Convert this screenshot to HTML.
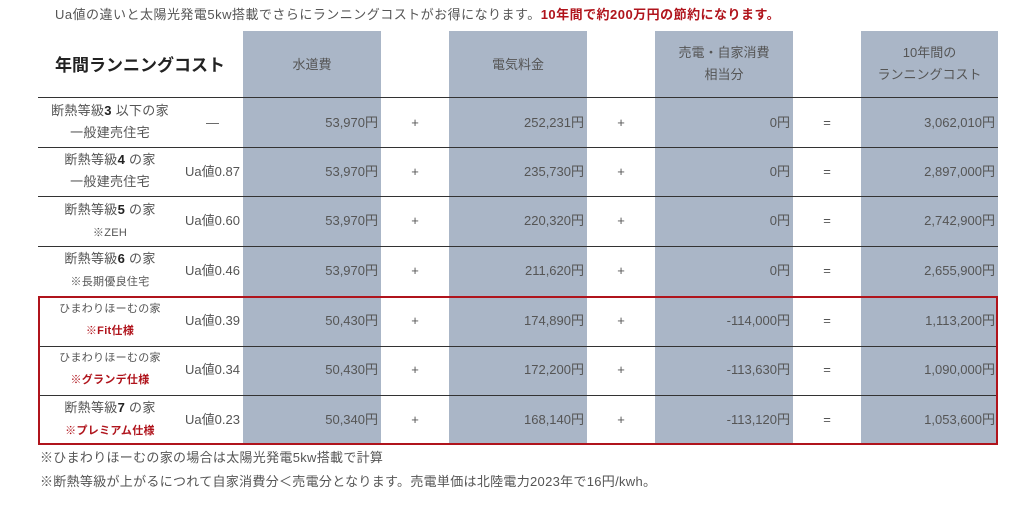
<!DOCTYPE html><html><head><meta charset="utf-8"><style>
body{margin:0;width:1024px;height:506px;background:#fff;position:relative;overflow:hidden;font-family:"Liberation Sans","Noto Sans CJK JP",sans-serif;color:#555;}
.a{position:absolute;white-space:nowrap}
.bl{position:absolute;background:#aab6c7;top:31px;height:414px}
.hl{position:absolute;left:38px;width:960px;height:1px;background:#333}
.c{text-align:center}
.r{text-align:right}
.n{font-size:13px;height:20px;line-height:20px}
.lab{font-size:13px;line-height:22px;text-align:center;width:144px;left:38px;letter-spacing:0.3px}
b{color:#222}
.red{color:#b0141c;font-weight:bold;font-size:11px}
</style></head><body>
<div class="a" style="left:55px;top:4px;font-size:13px;color:#555;letter-spacing:0.48px">Ua値の違いと太陽光発電5kw搭載でさらにランニングコストがお得になります。<span style="color:#b0141c;font-weight:bold">10年間で約200万円の節約になります。</span></div>
<div class="bl" style="left:243px;width:138px"></div>
<div class="bl" style="left:449px;width:138px"></div>
<div class="bl" style="left:655px;width:138px"></div>
<div class="bl" style="left:861px;width:137px"></div>
<div class="a" style="left:55px;top:51px;font-size:17px;font-weight:bold;color:#222">年間ランニングコスト</div>
<div class="a c" style="left:243px;width:138px;top:54px;font-size:13px">水道費</div>
<div class="a c" style="left:449px;width:138px;top:54px;font-size:13px">電気料金</div>
<div class="a c" style="left:655px;width:138px;top:42px;font-size:13px;line-height:22px">売電・自家消費<br>相当分</div>
<div class="a c" style="left:861px;width:137px;top:42px;font-size:13px;line-height:22px">10年間の<br>ランニングコスト</div>
<div class="hl" style="top:97px"></div>
<div class="hl" style="top:147px"></div>
<div class="hl" style="top:196px"></div>
<div class="hl" style="top:246px"></div>
<div class="hl" style="top:346px"></div>
<div class="hl" style="top:395px"></div>
<div class="a" style="left:38px;top:296px;width:956px;height:145px;border:2px solid #b0141c"></div>

<div class="a lab" style="top:100px">断熱等級<b>3</b> 以下の家<br>一般建売住宅</div>
<div class="a lab" style="top:149px">断熱等級<b>4</b> の家<br>一般建売住宅</div>
<div class="a lab" style="top:199px">断熱等級<b>5</b> の家<br><span style="font-size:11px">※ZEH</span></div>
<div class="a lab" style="top:248px">断熱等級<b>6</b> の家<br><span style="font-size:11px">※長期優良住宅</span></div>
<div class="a lab" style="top:298px;font-size:11px">ひまわりほーむの家<br><span class="red">※Fit仕様</span></div>
<div class="a lab" style="top:347px;font-size:11px">ひまわりほーむの家<br><span class="red">※グランデ仕様</span></div>
<div class="a lab" style="top:397px">断熱等級<b>7</b> の家<br><span class="red">※プレミアム仕様</span></div>

<div id="rows"></div>
<script>
var ys=[113,162,211,261,311,360,410];
var ua=["—","Ua値0.87","Ua値0.60","Ua値0.46","Ua値0.39","Ua値0.34","Ua値0.23"];
var w=["53,970円","53,970円","53,970円","53,970円","50,430円","50,430円","50,340円"];
var e=["252,231円","235,730円","220,320円","211,620円","174,890円","172,200円","168,140円"];
var s=["0円","0円","0円","0円","-114,000円","-113,630円","-113,120円"];
var t=["3,062,010円","2,897,000円","2,742,900円","2,655,900円","1,113,200円","1,090,000円","1,053,600円"];
var h="";
for(var i=0;i<7;i++){var y=ys[i];
h+='<div class="a n c" style="left:182px;width:61px;top:'+y+'px">'+ua[i]+'</div>';
h+='<div class="a n r" style="left:243px;width:135px;top:'+y+'px">'+w[i]+'</div>';
h+='<div class="a n c" style="left:381px;width:68px;top:'+y+'px">+</div>';
h+='<div class="a n r" style="left:449px;width:135px;top:'+y+'px">'+e[i]+'</div>';
h+='<div class="a n c" style="left:587px;width:68px;top:'+y+'px">+</div>';
h+='<div class="a n r" style="left:655px;width:135px;top:'+y+'px">'+s[i]+'</div>';
h+='<div class="a n c" style="left:793px;width:68px;top:'+y+'px">=</div>';
h+='<div class="a n r" style="left:861px;width:134px;top:'+y+'px">'+t[i]+'</div>';}
document.getElementById("rows").innerHTML=h;
</script>
<div class="a" style="left:40px;top:447px;font-size:13px;letter-spacing:0.3px">※ひまわりほーむの家の場合は太陽光発電5kw搭載で計算</div>
<div class="a" style="left:40px;top:471px;font-size:13px;letter-spacing:0.3px">※断熱等級が上がるにつれて自家消費分＜売電分となります。売電単価は北陸電力2023年で16円/kwh。</div>
</body></html>
